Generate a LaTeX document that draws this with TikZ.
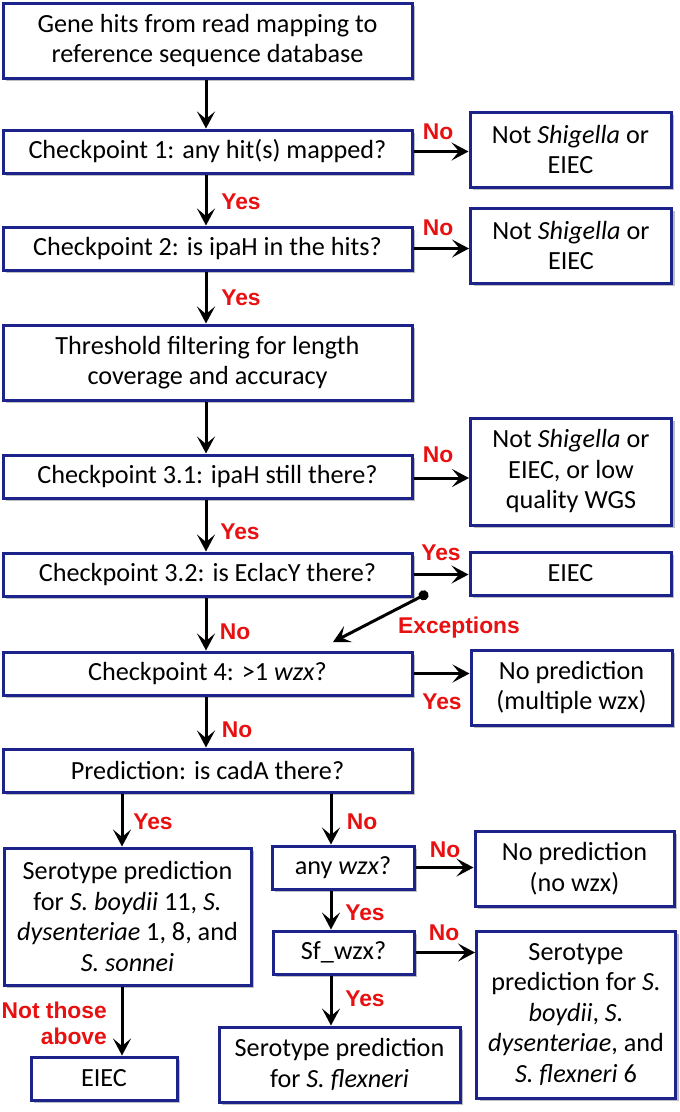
\documentclass[tikz,border=0pt]{standalone}
\usepackage{fontspec}
\setmainfont{Carlito}
\newfontfamily\labfont{Liberation Sans}
\usetikzlibrary{arrows.meta,shadows,calc}
\definecolor{boxblue}{RGB}{28,36,140}
\definecolor{labred}{RGB}{232,16,16}
\begin{document}
\begin{tikzpicture}[x=1pt,y=-1pt,
  box/.style={draw=boxblue, line width=3pt, fill=white, align=center, inner sep=0pt,
    font=\fontsize{26.2}{30.5}\selectfont,
    drop shadow={shadow xshift=3pt, shadow yshift=-3pt, fill=black, opacity=0.25}},
  bx/.style 2 args={minimum width=#1pt, minimum height=#2pt},
  arr/.style={line width=3pt, -{Stealth[length=17pt,width=18pt,inset=7.5pt]}},
  lab/.style={text=labred, font=\labfont\bfseries\fontsize{22.8}{26.5}\selectfont, inner sep=0pt}]
\useasboundingbox[fill=white] (0,0) rectangle (680,1112);

% main column
\node[box,bx={409}{75}] (b1) at (207.5,40.5) {Gene hits from read mapping to\\reference sequence database};
\node[box,bx={409}{43}] (cp1) at (207.5,151.5) {Checkpoint 1: any hit(s) mapped?};
\node[box,bx={409}{43}] (cp2) at (207.5,248.5) {Checkpoint 2: is ipaH in the hits?};
\node[box,bx={409}{75}] (thr) at (207.5,362.5) {Threshold filtering for length\\coverage and accuracy};
\node[box,bx={409}{43}] (cp31) at (207.5,476.5) {Checkpoint 3.1: ipaH still there?};
\node[box,bx={409}{43}] (cp32) at (207.5,574.5) {Checkpoint 3.2: is EclacY there?};
\node[box,bx={409}{43}] (cp4) at (207.5,673.5) {Checkpoint 4: >1 \textit{wzx}?};
\node[box,bx={409}{43}] (pred) at (207.5,770.5) {Prediction: is cadA there?};

% right column
\node[box,bx={201}{75}] (ns1) at (570.5,149.5) {Not \textit{Shigella} or\\EIEC};
\node[box,bx={201}{75}] (ns2) at (571,245.5) {Not \textit{Shigella} or\\EIEC};
\node[box,bx={201}{107}] (ns3) at (571,471.5) {Not \textit{Shigella} or\\EIEC, or low\\quality WGS};
\node[box,bx={201}{43}] (eiec1) at (570.5,573.5) {EIEC};
\node[box,bx={201}{75}] (np1) at (571.5,687.5) {No prediction\\(multiple wzx)};

% lower part
\node[box,bx={247}{137}] (ser1) at (127.5,916.5) {Serotype prediction\\for \textit{S. boydii} 11, \textit{S.}\\\textit{dysenteriae} 1, 8, and\\\textit{S. sonnei}};
\node[box,bx={146}{43}] (eiec2) at (104,1078.5) {EIEC};
\node[box,bx={142}{43}] (any) at (343,867.5) {any \textit{wzx}?};
\node[box,bx={141}{43}] (sf) at (343.5,952.5) {Sf\_wzx?};
\node[box,bx={199}{75}] (np2) at (574.5,868.5) {No prediction\\(no wzx)};
\node[box,bx={199}{167}] (ser3) at (576,1014.5) {Serotype\\prediction for \textit{S.}\\\textit{boydii}, \textit{S.}\\\textit{dysenteriae}, and\\\textit{S. flexneri} 6};
\node[box,bx={241}{75}] (ser2) at (339.5,1064.5) {Serotype prediction\\for \textit{S. flexneri}};

% helper x positions
\coordinate (xm) at (206,0);
\coordinate (xl) at (122,0);
\coordinate (xr) at (331,0);
\coordinate (exA) at (428,593);
\coordinate (exB) at (333,642);

% vertical arrows main
\draw[arr] (b1.south -| xm) -- (cp1.north -| xm);
\draw[arr] (cp1.south -| xm) -- (cp2.north -| xm);
\draw[arr] (cp2.south -| xm) -- (thr.north -| xm);
\draw[arr] (thr.south -| xm) -- (cp31.north -| xm);
\draw[arr] (cp31.south -| xm) -- (cp32.north -| xm);
\draw[arr] (cp32.south -| xm) -- (cp4.north -| xm);
\draw[arr] (cp4.south -| xm) -- (pred.north -| xm);

% horizontal arrows
\draw[arr] (cp1.east) -- (cp1.east -| ns1.west);
\draw[arr] (cp2.east) -- (cp2.east -| ns2.west);
\draw[arr] ($(cp31.east)+(0,1.5)$) -- ($(cp31.east -| ns3.west)+(0,1.5)$);
\draw[arr] (cp32.east) -- (cp32.east -| eiec1.west);
\draw[arr] (cp4.east) -- (cp4.east -| np1.west);
\draw[arr] (any.east) -- (any.east -| np2.west);
\draw[arr] (sf.east) -- (sf.east -| ser3.west);

% exceptions
\draw[line width=3pt, {Circle[length=10pt]}-{Stealth[length=17pt,width=18pt,inset=7.5pt]}] (exA) -- (exB);

% lower arrows
\draw[arr] (pred.south -| xl) -- (ser1.north -| xl);
\draw[arr] (pred.south -| xr) -- (any.north -| xr);
\draw[arr] (ser1.south -| xl) -- (eiec2.north -| xl);
\draw[arr] (any.south -| xr) -- (sf.north -| xr);
\draw[arr] (sf.south -| xr) -- (ser2.north -| xr);

% labels
\node[lab] (l1) at (438,132) {No};
\node[lab] (l2) at (241,202) {Yes};
\node[lab] (l3) at (438,228) {No};
\node[lab] (l4) at (241,298) {Yes};
\node[lab] (l5) at (438,455) {No};
\node[lab] (l6) at (240,532) {Yes};
\node[lab] (l7) at (441,553) {Yes};
\node[lab] (l8) at (459,628) {Exceptions};
\node[lab] (l9) at (235,632) {No};
\node[lab] (l10) at (442,702) {Yes};
\node[lab] (l11) at (237,730) {No};
\node[lab] (l12) at (153,822) {Yes};
\node[lab] (l13) at (362,822) {No};
\node[lab] (l14) at (445,850) {No};
\node[lab] (l15) at (365,913) {Yes};
\node[lab] (l16) at (444,933) {No};
\node[lab] (l17) at (365,999) {Yes};
\node[lab, align=right, anchor=east] (l18) at (107,1023.5) {Not those\\above};
\end{tikzpicture}
\end{document}
